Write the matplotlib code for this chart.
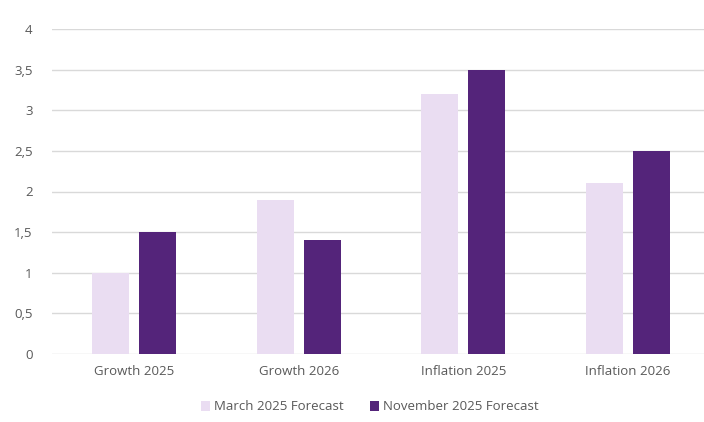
import matplotlib.pyplot as plt
import numpy as np

categories = ['Growth 2025', 'Growth 2026', 'Inflation 2025', 'Inflation 2026']
march = [1.0, 1.9, 3.2, 2.1]
november = [1.5, 1.4, 3.5, 2.5]
yticks = [0, 0.5, 1, 1.5, 2, 2.5, 3, 3.5, 4]

light = '#EADDF2'
dark = '#54247A'
grey = '#595959'

plt.rcParams['font.family'] = ['Open Sans', 'DejaVu Sans']

fig = plt.figure(figsize=(7.04, 4.22), dpi=100)
ax = fig.add_axes([52 / 704, 1 - 354 / 422, 658 / 704, 325 / 422])

x = np.arange(len(categories))
w = 0.225
ax.bar(x - 0.143, march, w, color=light, label='March 2025 Forecast', zorder=3)
ax.bar(x + 0.143, november, w, color=dark, label='November 2025 Forecast', zorder=3)

ax.set_xlim(-0.5, len(categories) - 0.5)
ax.set_ylim(0, 4)
ax.set_yticks(yticks)
ax.set_yticklabels([('%g' % t).replace('.', ',') for t in yticks])
ax.set_xticks(x)
ax.set_xticklabels(categories)
ax.grid(axis='y', color='#D9D9D9', linewidth=1, zorder=0)
for sp in ax.spines.values():
    sp.set_visible(False)
ax.tick_params(axis='both', length=0, colors=grey, labelsize=9.5)
ax.tick_params(axis='y', pad=14)
ax.tick_params(axis='x', pad=8)

leg = fig.legend(loc='center', bbox_to_anchor=(370 / 704, 1 - 407 / 422), ncol=2,
                 frameon=False, fontsize=9.5, handlelength=0.7, handleheight=0.7,
                 columnspacing=2.0, handletextpad=0.3)
for t in leg.get_texts():
    t.set_color(grey)

fig.savefig('out.png', dpi=100)
